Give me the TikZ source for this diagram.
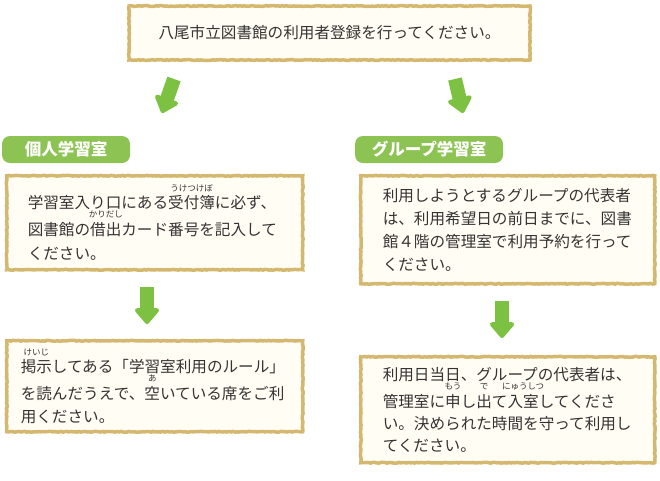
\documentclass[tikz,border=0pt]{standalone}
\usepackage{fontspec}
\setmainfont{Noto Sans CJK JP}
\usetikzlibrary{arrows.meta,decorations.pathmorphing}

\definecolor{frameTan}{HTML}{D4B86F}
\definecolor{paperIvory}{HTML}{FFFDF4}
\definecolor{leafGreen}{HTML}{7DC142}
\definecolor{tagGreen}{HTML}{8CC352}
\definecolor{inkGray}{HTML}{333333}

\newcommand\yomi[2]{\leavevmode\setbox0\hbox{#1}\rlap{\raisebox{1.12em}{\makebox[\wd0]{\fontsize{8.5}{8.5}\selectfont #2}}}\box0}

\begin{document}
\begin{tikzpicture}[x=1pt,y=-1pt,
		paper/.style={draw=frameTan,fill=paperIvory,line width=3.5pt,inner sep=0pt,
			decorate,decoration={random steps,segment length=2pt,amplitude=0.4pt},
			text=inkGray,font=\fontsize{15.6}{23}\selectfont,align=left,anchor=north west},
		tag/.style={fill=tagGreen,rounded corners=8pt,text=white,inner sep=0pt,
			font=\fontsize{16.5}{16.5}\selectfont\bfseries},
		flow/.style={leafGreen,line width=14pt,-{Triangle[width=28pt,length=17pt,round]}}]
		\useasboundingbox (0,0) rectangle (660,480);
		\node[paper,anchor=center,minimum width=401pt,minimum height=54pt,align=center] (top) at (329.5,33) {八尾市立図書館の利用者登録を行ってください。};
		% left column
		\node[tag,minimum width=128pt,minimum height=27pt] (tagKojin) at (66,149.5) {個人学習室};
		\node[paper,minimum width=296pt,minimum height=94pt,text width=254pt,font=\fontsize{15.6}{24.5}\selectfont] (kojinA) at (5,174) {学習室入り口にある\yomi{受付簿}{うけつけぼ}に必ず、\\図書館の\yomi{借出}{かりだし}カード番号を記入して\\ください。};
		\node[paper,minimum width=296pt,minimum height=91pt,text width=268pt] (kojinB) at (5,339) {\yomi{掲示}{けいじ}してある「学習室利用のルール」\\を読んだうえで、\yomi{空}{あ}いている席をご利\\用ください。};
		% right column
		\node[tag,minimum width=148pt,minimum height=27pt] (tagGroup) at (429,149.5) {グループ学習室};
		\node[paper,minimum width=294pt,minimum height=108pt,text width=250pt] (groupA) at (359,174) {利用しようとするグループの代表者\\は、利用希望日の前日までに、図書\\館４階の管理室で利用予約を行って\\ください。};
		\node[paper,minimum width=294pt,minimum height=106pt,text width=250pt,font=\fontsize{15.6}{22}\selectfont] (groupB) at (359,355) {利用日当日、グループの代表者は、\\管理室に\yomi{申}{もう}し\yomi{出}{で}て\yomi{入室}{にゅうしつ}してくださ\\い。決められた時間を守って利用し\\てください。};
		% arrows
		\coordinate (goL) at (174,79);
		\coordinate (inL) at (162,113);
		\coordinate (goR) at (455,79);
		\coordinate (inR) at (463,113);
		\coordinate (kojinOut) at (147,287);
		\coordinate (kojinIn) at (147,324);
		\coordinate (groupOut) at (502,301);
		\coordinate (groupIn) at (502,338);
		\draw[flow] (goL) -- (inL);
		\draw[flow] (goR) -- (inR);
		\draw[flow] (kojinOut) -- (kojinIn);
		\draw[flow] (groupOut) -- (groupIn);
	\end{tikzpicture}
\end{document}
